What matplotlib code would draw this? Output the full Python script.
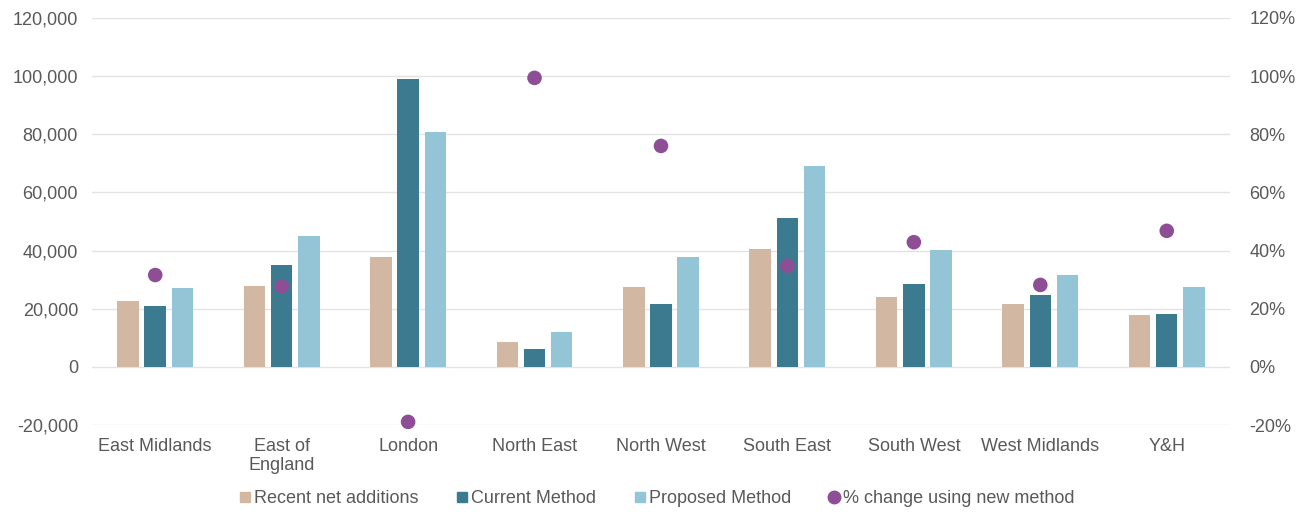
import numpy as np
import matplotlib.pyplot as plt
from matplotlib.lines import Line2D
from matplotlib.ticker import FuncFormatter

regions = ["East Midlands", "East of\nEngland", "London", "North East", "North West",
           "South East", "South West", "West Midlands", "Y&H"]
recent   = [22800, 27700, 37800, 8500, 27600, 40700, 24100, 21500, 17700]
current  = [20900, 35100, 98900, 6100, 21600, 51300, 28400, 24700, 18300]
proposed = [27100, 44900, 80700, 12100, 37800, 69100, 40200, 31600, 27600]
pct_change = [31.6, 27.7, -18.9, 99.4, 76.0, 34.8, 42.9, 28.2, 46.8]

c_recent, c_current, c_prop, c_pct = "#D2B8A3", "#3B7A8F", "#93C5D7", "#8E4E96"
txt = "#595959"

plt.rcParams['font.family'] = ['Liberation Sans', 'DejaVu Sans']

fig = plt.figure(figsize=(13.05, 5.14), dpi=100)
ax = fig.add_axes([0.0705, 0.173, 0.872, 0.792])
ax2 = ax.twinx()

x = np.arange(len(regions))
step, w = 0.215, 0.17
ax.bar(x - step, recent, w, color=c_recent, zorder=3)
ax.bar(x, current, w, color=c_current, zorder=3)
ax.bar(x + step, proposed, w, color=c_prop, zorder=3)
ax2.scatter(x, pct_change, s=110, color=c_pct, zorder=4, edgecolors='none', clip_on=False)

ax.set_xlim(-0.5, len(regions) - 0.5)
ax.set_ylim(-20000, 120000)
ax.set_yticks(range(-20000, 120001, 20000))
ax.yaxis.set_major_formatter(FuncFormatter(lambda v, p: f"{v:,.0f}"))
ax2.set_ylim(-20, 120)
ax2.set_yticks(range(-20, 121, 20))
ax2.yaxis.set_major_formatter(FuncFormatter(lambda v, p: f"{v:.0f}%"))

ax.grid(axis='y', color="#E3E3E3", linewidth=1, zorder=0)
ax.set_axisbelow(True)
ax.set_xticks(x)
ax.set_xticklabels(regions)
for a in (ax, ax2):
    for s in a.spines.values():
        s.set_visible(False)
    a.tick_params(length=0, labelsize=13, labelcolor=txt)
ax.tick_params(axis='y', pad=10)
ax.tick_params(axis='x', pad=9)
ax2.tick_params(axis='y', pad=14)

handles = [
    Line2D([], [], marker='s', ls='', color=c_recent, markersize=7),
    Line2D([], [], marker='s', ls='', color=c_current, markersize=7),
    Line2D([], [], marker='s', ls='', color=c_prop, markersize=7),
    Line2D([], [], marker='o', ls='', color=c_pct, markersize=9),
]
labels = ["Recent net additions", "Current Method", "Proposed Method", "% change using new method"]
fig.legend(handles, labels, loc='center', bbox_to_anchor=(0.503, 0.03), ncol=4,
           frameon=False, fontsize=13, labelcolor=txt, handletextpad=0.1,
           columnspacing=2.0, handlelength=0.8)

fig.savefig("out.png", dpi=100)
